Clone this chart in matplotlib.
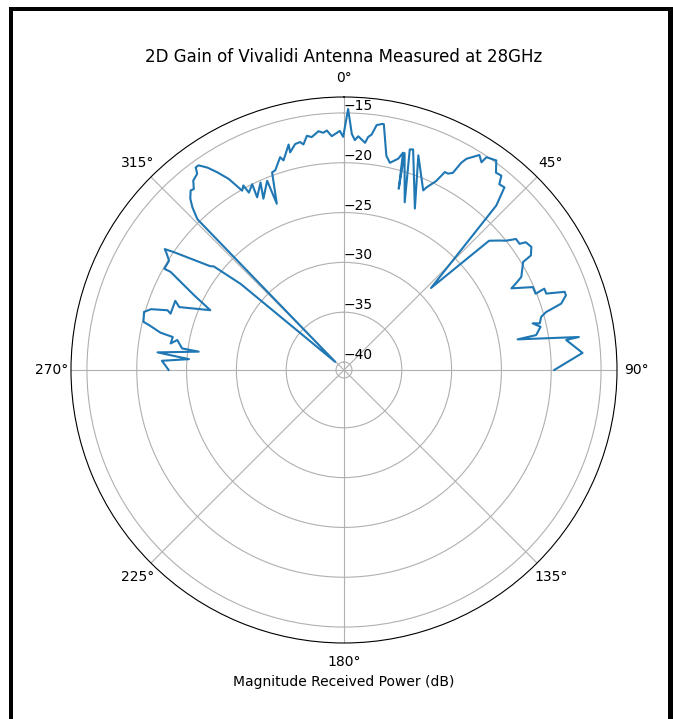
import numpy as np
import matplotlib
matplotlib.use("Agg")
import matplotlib.pyplot as plt
from matplotlib.patches import Rectangle

# measured pattern, angle in degrees (0 = boresight, clockwise positive), gain in dB
angle_deg = [
    -90.0, -87.1, -86.0, -84.6, -82.8, -82.4, -79.8, -81.3, -79.1, -78.5,
    -77.0, -76.5, -73.8, -72.5, -71.3, -72.0, -67.7, -69.1, -65.9, -63.5,
    -60.5, -60.6, -58.0, -56.7, -56.0, -55.3, -52.2, -51.5, -50.2, -47.3,
    -44.2, -43.0, -41.9, -40.5, -39.7, -38.5, -36.8, -36.2, -35.4, -34.0,
    -32.7, -31.1, -29.6, -28.6, -28.2, -26.3, -26.7, -24.0, -25.2, -22.1,
    -22.0, -20.0, -19.0, -16.7, -16.1, -13.8, -13.9, -12.2, -10.9, -10.2,
    -9.0, -7.9, -6.1, -5.0, -4.1, -3.0, -1.8, -1.0, -0.2, 0.9,
    1.9, 2.7, 3.5, 4.4, 5.3, 5.9, 6.7, 7.6, 8.9, 9.2,
    11.2, 12.5, 14.4, 15.2, 16.8, 15.6, 19.9, 16.6, 17.4, 23.7,
    19.1, 23.8, 24.3, 26.0, 27.0, 27.9, 28.9, 29.5, 30.1, 32.2,
    33.5, 33.8, 36.0, 37.6, 39.0, 39.9, 41.3, 42.8, 46.7, 48.3,
    50.2, 51.4, 52.7, 54.3, 54.9, 56.7, 58.5, 58.9, 62.3, 63.3,
    64.0, 66.3, 68.3, 67.9, 69.3, 70.5, 71.4, 73.0, 74.0, 74.9,
    76.6, 76.1, 77.6, 79.7, 80.0, 82.0, 82.3, 85.9, 90.0,
]
gain_db = [
    -23.2, -22.5, -25.2, -22.0, -26.1, -24.4, -23.8, -23.2, -23.3, -22.0,
    -20.7, -20.1, -19.9, -20.5, -22.1, -22.5, -22.5, -23.1, -26.1, -24.0,
    -20.8, -20.1, -20.1, -19.5, -19.1, -20.0, -23.8, -24.1, -27.3, -39.6,
    -19.7, -18.5, -17.7, -17.1, -17.2, -16.5, -16.2, -15.6, -15.6, -16.3,
    -17.2, -18.4, -20.1, -19.7, -20.6, -20.0, -21.4, -20.2, -21.8, -20.3,
    -22.8, -19.7, -19.6, -18.5, -18.9, -17.5, -18.3, -17.6, -17.5, -17.8,
    -17.0, -17.2, -16.7, -16.9, -16.7, -17.3, -17.0, -16.8, -17.4, -14.6,
    -17.1, -17.7, -17.3, -17.6, -17.9, -17.3, -17.0, -16.0, -15.8, -15.8,
    -18.9, -19.5, -18.9, -18.2, -21.8, -18.2, -22.9, -17.7, -17.6, -23.1,
    -18.0, -21.1, -20.7, -19.7, -18.5, -18.5, -18.2, -16.9, -16.3, -15.3,
    -15.8, -15.1, -14.8, -15.8, -15.7, -16.5, -16.4, -18.3, -28.8, -21.3,
    -20.5, -20.0, -19.1, -19.1, -18.5, -18.3, -18.8, -19.8, -20.7, -21.5,
    -22.1, -20.1, -20.1, -19.1, -19.1, -17.3, -17.3, -18.0, -19.7, -20.3,
    -20.6, -21.3, -20.6, -21.2, -23.1, -17.0, -18.3, -16.8, -19.7,
]
r_ticks = [-40, -35, -30, -25, -20, -15]

W, H = 673, 719
fig = plt.figure(figsize=(W / 100, H / 100), dpi=100)

# square polar axes, centre ~ (344, 370) px, radius ~273 px
cx, cy, rad = 344, 370, 273
ax = fig.add_axes([(cx - rad) / W, (H - cy - rad) / H, 2 * rad / W, 2 * rad / H],
                  projection='polar')
ax.set_theta_zero_location('N')
ax.set_theta_direction(-1)

ax.plot(np.deg2rad(angle_deg), gain_db, color='#1f77b4', linewidth=1.5)

ax.set_ylim(-40.8, -13.4)
ax.set_yticks(r_ticks)
ax.set_rlabel_position(0)
ax.grid(True)

ax.set_title('2D Gain of Vivalidi Antenna Measured at 28GHz', fontsize=12)
ax.set_xlabel('Magnitude Received Power (dB)')

# black frame around the screenshot (top, left, right)
for (x0, y0, w, h) in [(9, 7, W - 9, 4), (9, 7, 4, H - 7), (668, 7, 5, H - 7)]:
    fig.add_artist(Rectangle((x0 / W, (H - y0 - h) / H), w / W, h / H,
                             transform=fig.transFigure, facecolor='black',
                             edgecolor='none'))

fig.savefig('out.png', dpi=100)
